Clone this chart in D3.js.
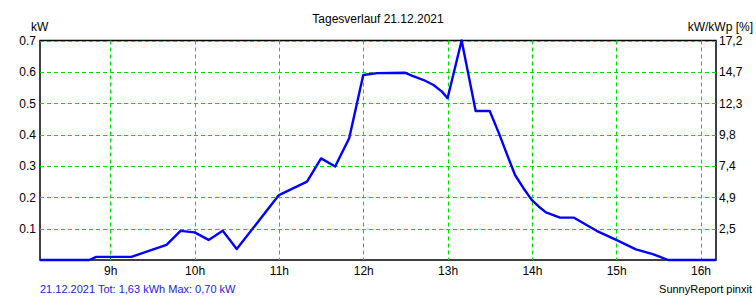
<!DOCTYPE html>
<html><head><meta charset="utf-8">
<script src="https://cdn.jsdelivr.net/npm/d3@7"></script>
<style>
html,body{margin:0;padding:0;background:#fff;}
svg{display:block;font-family:"Liberation Sans",Arial,sans-serif;}
</style></head>
<body><svg id="c" width="756" height="300"></svg>
<script>
const times = ["08:10","08:45","08:50","09:15","09:40","09:50","10:00","10:10","10:20","10:30","11:00","11:20","11:30","11:40","11:50","12:00","12:10","12:30","12:35","12:43","12:50","12:56","13:00","13:10","13:20","13:30","13:37","13:42","13:48","13:54","14:00","14:05","14:10","14:20","14:30","14:46","15:00","15:14","15:26","15:37","16:11"];
const power = [0,0,0.010,0.010,0.048,0.093,0.088,0.064,0.093,0.035,0.207,0.250,0.324,0.298,0.388,0.590,0.596,0.597,0.587,0.574,0.558,0.537,0.516,0.700,0.475,0.475,0.399,0.340,0.271,0.229,0.191,0.170,0.152,0.135,0.135,0.093,0.064,0.034,0.019,0,0];
const hourTicks = [9,10,11,12,13,14,15,16];
const hourLabels = ["9h","10h","11h","12h","13h","14h","15h","16h"];
const kwTicks = [0.1,0.2,0.3,0.4,0.5,0.6,0.7];
const pctLabels = ["2,5","4,9","7,4","9,8","12,3","14,7","17,2"];
const title = "Tagesverlauf 21.12.2021";
const footer = "21.12.2021 Tot: 1,63 kWh Max: 0,70 kW";
const credit = "SunnyReport pinxit";

const toH = t => { const [h,m] = t.split(":").map(Number); return h + m/60; };
const svg = d3.select("#c");
const L = 40, R = 716, T = 40.5, B = 260;
const x = d3.scaleLinear().domain([toH("08:10"), toH("16:11")]).range([L, R]);
const y = d3.scaleLinear().domain([0, 0.7]).range([B, T]);
const grid = "#00e000";

// frame
svg.append("rect").attr("x", L).attr("y", T).attr("width", R-L).attr("height", B-T)
  .attr("fill", "none").attr("stroke", "#000").attr("stroke-width", 1.5);

// grid
svg.append("g").selectAll("line").data(kwTicks).join("line")
  .attr("x1", L).attr("x2", R).attr("y1", d => Math.round(y(d))+0.5).attr("y2", d => Math.round(y(d))+0.5)
  .attr("stroke", grid).attr("stroke-dasharray", "4,3");
svg.append("g").selectAll("line").data(hourTicks).join("line")
  .attr("y1", T).attr("y2", B).attr("x1", d => Math.round(x(d))+0.5).attr("x2", d => Math.round(x(d))+0.5)
  .attr("stroke", grid).attr("stroke-dasharray", "4,3");

// axes
const yl = d3.axisLeft(y).tickValues(kwTicks).tickFormat(d3.format(".1f")).tickSize(0).tickPadding(4);
const gl = svg.append("g").attr("transform", `translate(${L},0)`).call(yl);
const yr = d3.axisRight(y).tickValues(kwTicks).tickFormat((d,i) => pctLabels[i]).tickSize(0).tickPadding(3);
const gr = svg.append("g").attr("transform", `translate(${R},0)`).call(yr);
const xb = d3.axisBottom(x).tickValues(hourTicks).tickFormat((d,i) => hourLabels[i]).tickSize(0).tickPadding(6);
const gb = svg.append("g").attr("transform", `translate(0,${B})`).call(xb);
[gl, gr, gb].forEach(g => {
  g.select(".domain").remove();
  g.selectAll("text").attr("font-size", 12).attr("fill", "#000").attr("font-family", "Liberation Sans, Arial, sans-serif");
  g.selectAll("line").attr("stroke", "#000");
});

// line
const line = d3.line().x((d,i) => x(toH(times[i]))).y(d => y(d));
svg.append("path").datum(power).attr("d", line).attr("fill", "none")
  .attr("stroke", "#0000ff").attr("stroke-width", 2.4).attr("stroke-linejoin", "round");

// texts
svg.append("text").attr("x", 378).attr("y", 23).attr("text-anchor", "middle").attr("font-size", 12).text(title);
svg.append("text").attr("x", 31).attr("y", 31).attr("font-size", 12).text("kW");
svg.append("text").attr("x", 753).attr("y", 31).attr("text-anchor", "end").attr("font-size", 12).text("kW/kWp [%]");
svg.append("text").attr("x", 40).attr("y", 293).attr("font-size", 11).attr("fill", "#2222dd").text(footer);
svg.append("text").attr("x", 752).attr("y", 293).attr("text-anchor", "end").attr("font-size", 11).attr("fill", "#000").text(credit);
</script></body></html>
